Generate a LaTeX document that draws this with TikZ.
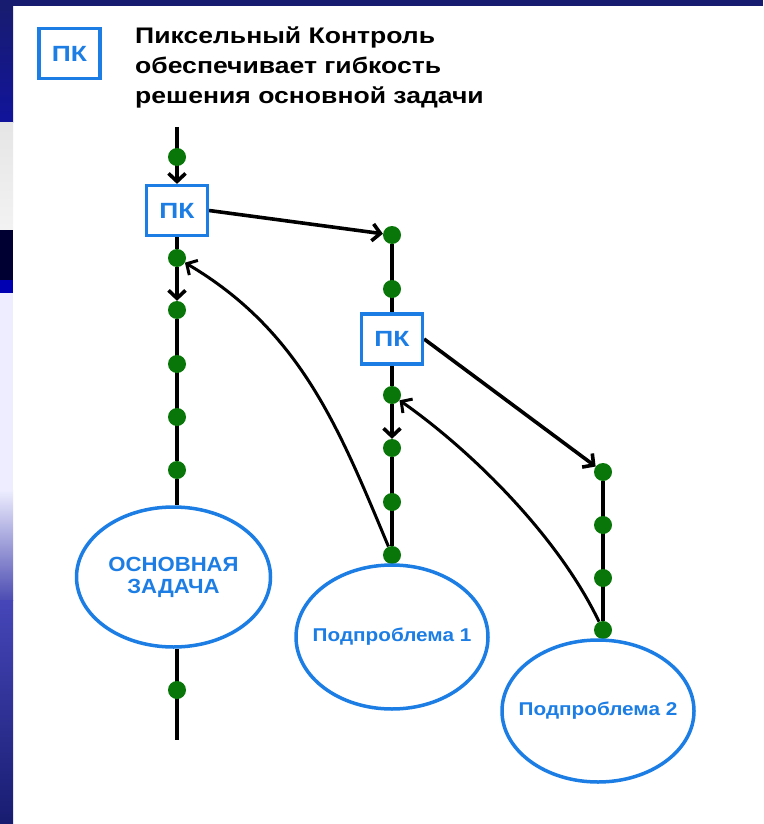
\documentclass[tikz,border=0pt]{standalone}
\usepackage{fontspec}
\setmainfont{Liberation Sans}
\usepackage{tikz}
\usetikzlibrary{shapes.geometric,arrows.meta}

\definecolor{pkblue}{RGB}{28,126,228}
\definecolor{dotgreen}{RGB}{8,118,8}
\definecolor{slidenavy}{RGB}{24,28,112}

\pgfdeclarelayer{background}
\pgfsetlayers{background,main}

\begin{document}
\begin{tikzpicture}[x=1pt,y=-1pt,
    flow/.style={line width=3.6pt,black},
    back/.style={line width=3pt,black},
    arr/.style={-{Straight Barb[length=8pt,width=17pt]}},
    gdot/.style={circle,fill=dotgreen,inner sep=0pt,minimum size=18pt},
    pkbox/.style={draw=pkblue,line width=3.2pt,fill=white,text=pkblue,
        font=\fontsize{22}{24}\selectfont\bfseries\addfontfeatures{FakeStretch=1.2},
        minimum width=61pt,minimum height=50pt,inner sep=0pt},
    task/.style={ellipse,draw=pkblue,line width=3.5pt,fill=white,text=pkblue,
        inner ysep=0pt,inner xsep=-20pt,align=center}]
    \useasboundingbox (0,0) rectangle (763,824);

    % legend and title
    \node [pkbox] (legend) at (69.5,53.5) {ПК};
    \node [anchor=north west,inner sep=0pt,align=left,
        font=\fontsize{22.5}{30}\selectfont\bfseries\addfontfeatures{FakeStretch=1.18}]
        (title) at (135,27)
        {Пиксельный Контроль\\обеспечивает гибкость\\решения основной задачи};

    % main task column
    \coordinate (top) at (177,127);
    \node [gdot] (a1) at (177,157) {};
    \node [pkbox] (pk1) at (177,210.5) {ПК};
    \node [gdot] (a2) at (177,258) {};
    \node [gdot] (a3) at (177,310) {};
    \node [gdot] (a4) at (177,364) {};
    \node [gdot] (a5) at (177,417) {};
    \node [gdot] (a6) at (177,470) {};
    \node [task,minimum width=194pt,minimum height=140pt,
        font=\fontsize{20.5}{22}\selectfont\bfseries\addfontfeatures{FakeStretch=1.08}]
        (main) at (173.5,577) {ОСНОВНАЯ\\ЗАДАЧА};
    \node [gdot] (a7) at (177,690) {};
    \coordinate (bottom) at (177,740);

    % first subproblem
    \node [gdot] (b1) at (392,235) {};
    \node [gdot] (b2) at (392,289) {};
    \node [pkbox] (pk2) at (392,339) {ПК};
    \node [gdot] (b3) at (392,395) {};
    \node [gdot] (b4) at (392,448) {};
    \node [gdot] (b5) at (392,502) {};
    \node [gdot] (b6) at (392,555) {};
    \node [task,minimum width=192pt,minimum height=144pt,
        font=\fontsize{18.5}{20}\selectfont\bfseries\addfontfeatures{FakeStretch=1.12}]
        (sub1) at (392,637) {Подпроблема 1};

    % second subproblem
    \node [gdot] (c1) at (603,472) {};
    \node [gdot] (c2) at (603,525) {};
    \node [gdot] (c3) at (603,578) {};
    \node [gdot] (c4) at (603,630) {};
    \node [task,minimum width=192pt,minimum height=142pt,
        font=\fontsize{18.5}{20}\selectfont\bfseries\addfontfeatures{FakeStretch=1.12}]
        (sub2) at (598,711) {Подпроблема 2};

    \begin{pgfonlayer}{background}
    % slide background
    \fill [slidenavy] (0,0) rectangle (763,824);
    \fill [white] (13,6) rectangle (763,824);
    \shade [top color=slidenavy,bottom color=slidenavy!70!blue] (0,6) rectangle (13,123);
    \shade [top color=black!10,bottom color=black!5] (0,123) rectangle (13,230);
    \fill [black!80!blue] (0,230) rectangle (13,280);
    \fill [blue!70!black] (0,280) rectangle (13,293);
    \fill [blue!7] (0,293) rectangle (13,490);
    \shade [top color=blue!7,bottom color=blue!40!gray] (0,490) rectangle (13,600);
    \shade [top color=blue!45!gray,bottom color=slidenavy] (0,600) rectangle (13,824);

    % lines
    \draw [flow,arr] (top) -- (pk1);
    \draw [flow] (pk1) -- (a2);
    \draw [flow,arr] (a2) -- (a3);
    \draw [flow] (a3) -- (a6) -- (a6 |- main.north);
    \draw [flow] (main.south -| a7) -- (bottom);
    \draw [flow] (b1) -- (pk2);
    \draw [flow] (pk2) -- (b3);
    \draw [flow,arr] (b3) -- (b4);
    \draw [flow] (b4) -- (b6);
    \draw [flow] (c1) -- (c4);

    % calls and returns
    \draw [flow,arr] (pk1.east) -- (b1);
    \draw [flow,arr] (pk2.east) -- (c1);
    \draw [back,arr] (b6) .. controls (339.5,429.6) and (301,331) .. (a2);
    \draw [back,arr] (c4) .. controls (557,534) and (469,449) .. (b3);
    \end{pgfonlayer}
\end{tikzpicture}
\end{document}
